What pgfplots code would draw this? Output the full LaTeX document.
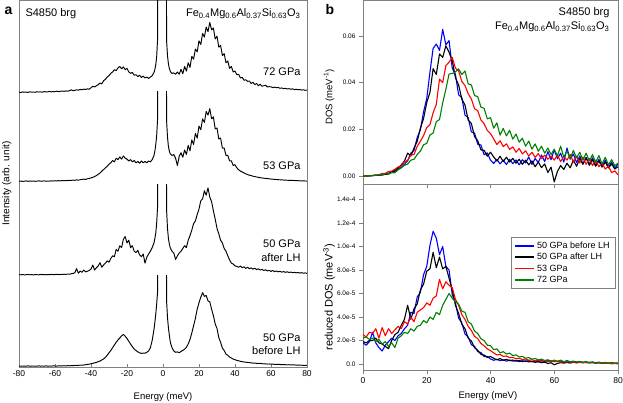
\documentclass[border=0pt]{standalone}
\usepackage{fontspec}
\setmainfont{Liberation Sans}
\usepackage{pgfplots}
\pgfplotsset{compat=1.18}
\usepackage{pgfplotstable}

\definecolor{framegray}{gray}{0.5}
\definecolor{dosgreen}{rgb}{0,0.5,0}
\definecolor{dosblue}{rgb}{0,0,1}

% NRIXS spectra, intensity in % of one panel band
% b = 50 GPa before LH, a = 50 GPa after LH, c = 53 GPa, d = 72 GPa
\pgfplotstableread{
E b a c d
-80 1.0 1.5 1.8 2.0
-79 0.8 1.3 2.2 1.6
-78 1.1 1.6 1.7 2.3
-77 0.9 1.2 2.0 1.9
-76 1.0 1.4 2.3 2.1
-75 1.2 1.7 1.8 1.7
-74 0.9 1.3 2.1 2.4
-73 1.0 1.5 1.9 2.0
-72 1.1 1.2 2.2 2.2
-71 0.8 1.6 1.8 1.8
-70 1.0 1.4 2.0 2.5
-69 1.2 1.3 2.4 2.1
-68 0.9 1.7 1.9 2.3
-67 1.1 1.4 2.1 2.0
-66 1.0 1.5 2.3 2.6
-65 1.2 1.3 1.9 2.2
-64 0.9 1.6 2.2 2.4
-63 1.1 1.4 2.0 2.8
-62 1.0 1.8 2.4 2.3
-61 1.2 1.5 2.1 2.7
-60 1.1 1.6 2.5 2.5
-59 1.0 1.9 2.2 3.1
-58 1.3 1.5 2.6 2.6
-57 1.1 1.8 2.3 2.9
-56 1.2 1.6 2.7 3.3
-55 1.4 2.0 2.4 2.8
-54 1.2 1.7 2.8 3.4
-53 1.5 2.2 2.5 3.0
-52 1.3 1.9 3.0 3.6
-51 1.6 2.4 2.7 4.5
-50 1.5 2.8 3.2 3.5
-49 1.7 3.5 2.9 4.0
-48 1.6 8.0 3.4 4.6
-47 1.8 3.0 3.1 4.2
-46 2.0 5.5 3.6 5.0
-45 1.9 4.0 3.9 4.6
-44 2.2 6.5 4.2 5.3
-43 2.5 4.5 3.8 4.9
-42 2.8 5.2 4.6 5.6
-41 3.1 6.0 5.0 5.2
-40 3.6 7.5 5.5 6.8
-39 4.0 12.0 6.2 8.5
-38 4.5 6.5 7.0 7.6
-37 5.0 9.0 8.1 9.0
-36 5.8 11.0 9.5 10.2
-35 6.5 14.5 10.8 12.0
-34 7.6 9.5 13.0 11.0
-33 8.8 12.0 14.6 14.5
-32 10.5 14.0 16.5 16.0
-31 12.8 16.5 18.2 18.5
-30 15.5 15.0 20.5 20.0
-29 18.0 19.0 22.0 22.5
-28 21.0 22.0 24.5 24.0
-27 24.0 21.0 23.0 26.5
-26 27.0 29.0 27.0 25.5
-25 29.5 27.0 25.5 28.5
-24 31.5 33.0 28.5 30.0
-23 34.0 31.0 26.0 27.5
-22 35.5 40.0 29.5 29.5
-21 33.5 43.0 27.0 26.5
-20 31.0 36.0 26.0 28.0
-19 28.0 39.0 24.0 24.0
-18 25.0 31.0 25.5 22.5
-17 22.0 33.0 23.0 23.5
-16 19.5 27.0 24.5 20.5
-15 18.0 25.5 22.0 21.0
-14 16.5 28.0 23.5 19.0
-13 15.5 23.0 21.5 20.5
-12 14.8 21.0 24.0 18.0
-11 15.2 24.0 22.0 19.5
-10 15.0 14.0 23.5 17.5
-9 16.0 20.5 22.0 18.5
-8 17.5 24.0 24.0 17.0
-7 21.0 27.0 23.0 18.5
-6 29.0 31.0 25.5 20.0
-5 41.0 36.0 30.0 23.5
-4.5 49.0 41.0 35.0 27.0
-4 58.0 47.0 42.0 32.0
-3.5 69.0 58.0 52.0 41.0
-3 82.0 76.0 70.0 60.0
-2.5 400 400 400 400
1.5 400 400 400 400
2 72 72 68 58
2.5 54 52 50 42
3 43 41 40 33
3.5 35 35 35 28
4 28 31 32 25
4.5 24 29 31 23.5
5 21 27 30 22.5
6 17.5 25 31 23
7 16 18 27 21.5
8 16.5 22 19 24
9 15.5 25 29 21.5
10 17 27 33 27
11 18 30 28 22
12 19.5 33 36 30
13 21.5 31 31 25
14 25 39 41 34
15 30 44 35 29
16 37 50 47 41
17 45 57 42 38
18 53 60 54 49
19 63 67 49 46
20 70 73 62 58
21 76 82 58 54
22 81 84 70 66
23 77 93 66 62
24 78 88 78 73
25 72 96 74 68
26 71 86 81 78
27 63 81 70 70
28 56 71 72 72
29 47 62 59 60
30 42 52 60 63
31 32 46 48 51
32 27 39 49 53
33 20.5 36 38 42
34 18 30 38 44
35 14 27 30 34
36 12.8 22 30 36
37 10.8 17.5 24 28
38 9.8 14 24 30
39 8.6 13 19 24
40 8.0 11 20 25
41 7.2 10.5 16.5 21
42 6.8 9.5 14.5 21.5
43 6.2 10.8 13.0 17.5
44 5.8 9.0 12.0 18.0
45 5.5 10.0 11.0 15.0
46 5.2 8.2 10.0 15.5
47 5.0 9.5 9.2 13.8
48 4.8 8.0 8.5 14.0
49 4.5 8.8 8.0 11.5
50 4.2 7.5 7.4 12.8
51 4.3 8.5 7.0 10.2
52 4.0 7.0 6.5 11.5
53 3.8 7.8 6.2 9.0
54 3.9 6.5 5.8 10.6
55 3.6 7.2 5.5 8.4
56 3.5 6.0 5.2 9.0
57 3.4 6.8 5.0 9.6
58 3.2 5.5 4.8 7.6
59 3.3 6.2 4.6 8.0
60 3.0 5.0 4.3 7.8
61 3.1 6.0 4.1 7.0
62 2.9 4.8 4.0 7.5
63 2.8 5.5 3.8 6.8
64 2.9 4.5 3.6 7.2
65 2.7 5.2 3.5 6.2
66 2.6 4.2 3.4 6.6
67 2.7 4.8 3.2 5.8
68 2.5 4.0 3.1 6.2
69 2.4 4.6 3.0 5.5
70 2.5 3.8 2.9 5.8
71 2.3 4.3 2.8 5.2
72 2.2 3.6 2.8 5.6
73 2.3 4.1 2.7 4.8
74 2.1 3.4 2.6 5.1
75 2.0 3.9 2.5 4.6
76 2.1 3.2 2.4 4.9
77 1.9 3.6 2.4 4.3
78 1.8 3.0 2.3 4.6
79 1.9 3.4 2.2 4.0
80 1.7 2.8 2.1 4.2
}\spectra

% DOS in 1e-3 meV^-1, reduced DOS in 1e-6 meV^-3
\pgfplotstableread{
E B K R G rb rk rr rg
0 0 0 0 0 18 19 25 22
1 0.02 0.02 0.03 0.02 16 18 23 23
2 0.08 0.08 0.10 0.09 19 20 27 21
3 0.25 0.18 0.23 0.20 27 20 26 22
4 0.29 0.35 0.48 0.31 18 22 30 19
5 0.35 0.45 0.55 0.52 14 18 22 21
6 0.40 0.60 1.12 0.61 11 17 31 17
7 0.78 0.74 1.18 0.93 16 15 24 19
8 1.22 0.83 1.92 0.96 19 13 30 15
9 1.78 1.62 2.11 1.46 22 20 26 18
10 2.0 2.5 2.9 1.4 20 25 29 14
11 2.9 3.3 3.9 2.7 24 27 32 22
12 3.7 4.8 4.3 3.5 26 33 30 24
13 5.1 6.4 6.1 4.6 30 38 36 27
14 6.5 9.8 6.7 5.1 33 50 34 26
15 9.8 8.6 9.0 6.8 44 38 40 30
16 10.9 12.0 9.2 7.2 43 47 36 28
17 16.5 14.8 12.7 9.2 57 51 44 32
18 19.8 20.5 14.9 10.7 61 63 46 33
19 27.5 24.6 17.3 13.4 76 68 48 37
20 33.2 31.5 20.8 14.0 83 79 52 35
21 44.5 35.8 22.0 17.6 101 81 50 40
22 54.7 46.0 27.1 18.4 113 95 56 38
23 56.5 43.5 30.7 23.3 107 82 58 44
24 53.8 52.3 41.5 24.2 93 91 72 42
25 62.8 50.8 40.0 31.3 100 81 64 50
26 56.2 55.8 47.3 37.2 83 83 70 55
27 58.0 53.0 48.8 43.7 80 73 67 60
28 46.2 49.5 50.8 43.9 59 63 65 56
29 43.5 42.1 46.2 44.6 52 50 55 53
30 34.8 39.0 45.0 45.9 39 43 50 51
31 33.6 33.0 40.5 43.5 35 34 42 45
32 26.1 30.4 38.8 45.0 25.5 30 38 44
33 25.0 24.0 35.2 39.5 23 22 32 36
34 18.9 22.5 33.0 39.0 16.4 19.5 28.5 34
35 18.4 16.9 28.8 34.5 15 13.8 23.5 28
36 13.6 15.1 28.0 34.0 10.5 11.7 21.6 26
37 13.3 11.2 24.0 29.5 9.7 8.2 17.5 21.5
38 9.1 11.0 22.4 29.0 6.3 7.6 15.5 20
39 9.9 8.5 19.5 24.5 6.5 5.6 12.8 16
40 6.8 10.2 18.2 25.0 4.3 6.4 11.4 15.6
41 5.4 8.2 15.9 20.5 3.2 4.9 9.5 12.2
42 7.1 6.4 13.5 22.8 4.0 3.6 7.7 12.9
43 5.2 8.5 15.1 17.5 2.8 4.6 8.2 9.5
44 6.8 6.2 12.6 20.4 3.5 3.2 6.5 10.5
45 4.9 8.1 13.8 17.2 2.4 4.0 6.8 8.5
46 7.2 6.0 11.4 19.6 3.4 2.8 5.4 9.3
47 5.3 7.6 12.5 15.8 2.4 3.4 5.7 7.2
48 6.9 5.5 10.2 18.0 3.0 2.4 4.4 7.8
49 4.8 7.2 11.8 14.5 2.0 3.0 4.9 6.0
50 7.0 5.0 9.5 16.2 2.8 2.0 3.8 6.5
51 5.6 6.8 10.8 12.8 2.2 2.6 4.2 4.9
52 8.2 4.8 8.6 15.0 3.0 1.8 3.2 5.5
53 5.0 6.5 10.2 11.5 1.8 2.3 3.6 4.1
54 7.5 4.0 8.0 13.8 2.6 1.4 2.7 4.7
55 5.8 6.0 9.6 10.6 1.9 2.0 3.2 3.5
56 9.0 3.6 7.4 12.8 2.9 1.1 2.4 4.1
57 6.2 5.2 9.0 9.8 1.9 1.6 2.8 3.0
58 10.5 1.5 7.2 12.0 3.1 0.4 2.1 3.6
59 7.0 3.8 8.6 9.2 2.0 1.1 2.5 2.6
60 11.2 -2.5 6.8 11.5 3.1 -0.7 1.9 3.2
61 7.4 2.0 9.0 8.6 2.0 0.5 2.4 2.3
62 9.8 4.5 6.2 12.8 2.5 1.2 1.6 3.3
63 6.0 2.8 8.4 8.0 1.5 0.7 2.1 2.0
64 12.0 5.5 6.8 10.8 2.9 1.3 1.7 2.6
65 7.2 3.5 9.2 7.5 1.7 0.8 2.2 1.8
66 9.5 6.8 6.0 11.0 2.2 1.6 1.4 2.5
67 5.8 4.2 8.5 7.8 1.3 0.9 1.9 1.7
68 8.6 7.5 5.6 10.2 1.9 1.6 1.2 2.2
69 5.2 5.0 8.2 6.8 1.1 1.1 1.7 1.4
70 8.0 7.8 5.0 9.8 1.6 1.6 1.0 2.0
71 5.0 4.6 7.5 6.5 1.0 0.9 1.5 1.3
72 7.8 7.0 4.5 9.2 1.5 1.4 0.9 1.8
73 4.5 4.2 6.8 5.8 0.8 0.8 1.3 1.1
74 7.2 6.5 4.0 8.8 1.3 1.2 0.7 1.6
75 4.2 3.8 5.6 5.2 0.7 0.7 1.0 0.9
76 6.8 6.0 3.0 8.0 1.2 1.0 0.5 1.4
77 3.8 3.5 4.2 4.8 0.6 0.6 0.7 0.8
78 6.0 5.2 1.5 7.0 1.0 0.9 0.2 1.2
79 3.5 3.0 2.2 4.5 0.6 0.5 0.4 0.7
80 5.0 4.0 0.5 5.5 0.8 0.6 0.1 0.9
}\dos

\pgfplotsset{
  band/.style={scale only axis, anchor=south west, width=288pt, height=91.75pt,
    xmin=-80, xmax=80, ymin=0, ymax=100, hide axis},
  trace/.style={black, line width=0.95pt, line join=round},
  dosline/.style={line width=1.1pt, line join=round},
  panelb/.style={scale only axis, anchor=south west, width=255pt,
    xmin=0, xmax=80, tick pos=left, tick align=outside,
    axis line style={framegray}, tick style={framegray, line width=0.5pt},
    major tick length=4pt,
    yticklabel style={font=\fontsize{6.5}{7}\selectfont},
    xticklabel style={font=\fontsize{8.5}{10}\selectfont}},
}

\begin{document}
\begin{tikzpicture}
\useasboundingbox (0pt,0pt) rectangle (623pt,403pt);

% ---- panel a: frame and energy axis
\begin{axis}[scale only axis, anchor=south west, at={(19pt,36pt)},
    width=288pt, height=367pt, xmin=-80, xmax=80, ymin=0, ymax=1,
    ytick=\empty, xtick={-80,-60,...,80},
    xticklabels={-80,-60,-40,-20,0,20,40,60,80},
    tick pos=left, tick align=inside, major tick length=3pt,
    axis line style={framegray}, tick style={framegray, line width=0.5pt},
    xticklabel style={font=\fontsize{8.5}{10}\selectfont},
    xlabel={Energy (meV)},
    xlabel style={font=\fontsize{9.5}{11}\selectfont, at={(axis description cs:0.5,-0.082)}, anchor=center},
    ylabel={Intensity (arb. unit)},
    ylabel style={font=\fontsize{10}{12}\selectfont, at={(axis description cs:-0.042,0.5)}, anchor=center},
]
\end{axis}

\begin{axis}[band, at={(19pt,36pt)}]
\addplot[trace] table[x=E, y=b] {\spectra};
\end{axis}
\begin{axis}[band, at={(19pt,127pt)}]
\addplot[trace] table[x=E, y=a] {\spectra};
\end{axis}
\begin{axis}[band, at={(19pt,220pt)}]
\addplot[trace] table[x=E, y=c] {\spectra};
\end{axis}
\begin{axis}[band, at={(19pt,309pt)}, height=94pt, ymax=102.5]
\addplot[trace] table[x=E, y=d] {\spectra};
\end{axis}

\node[anchor=base west, font=\fontsize{14}{16}\selectfont\bfseries] at (1pt,388pt) {a};
\node[anchor=base west, font=\fontsize{11}{13}\selectfont] at (22pt,386pt) {S4850 brg};
\node[anchor=base east, font=\fontsize{11}{13}\selectfont] at (304pt,386pt)
  {Fe\textsubscript{0.4}Mg\textsubscript{0.6}Al\textsubscript{0.37}Si\textsubscript{0.63}O\textsubscript{3}};
\node[anchor=base east, font=\fontsize{11}{13}\selectfont] at (304pt,327pt) {72 GPa};
\node[anchor=base east, font=\fontsize{11}{13}\selectfont] at (304pt,233pt) {53 GPa};
\node[anchor=base east, font=\fontsize{11}{13}\selectfont] at (304pt,155pt) {50 GPa};
\node[anchor=base east, font=\fontsize{11}{13}\selectfont] at (304pt,141pt) {after LH};
\node[anchor=base east, font=\fontsize{11}{13}\selectfont] at (304pt,61pt) {50 GPa};
\node[anchor=base east, font=\fontsize{11}{13}\selectfont] at (304pt,48pt) {before LH};

% ---- panel b, top: DOS
\begin{axis}[panelb, at={(363pt,219pt)}, height=184pt,
    ymin=-3.4, ymax=75.4, xtick={20,40,60}, xticklabels={},
    ytick={0,20,40,60}, yticklabels={0.00,0.02,0.04,0.06},
    ylabel={DOS (meV\textsuperscript{-1})},
    ylabel style={font=\fontsize{9.5}{11}\selectfont, at={(axis description cs:-0.133,0.473)}, anchor=center},
]
\addplot[dosline, dosblue] table[x=E, y=B] {\dos};
\addplot[dosline, black] table[x=E, y=K] {\dos};
\addplot[dosline, red] table[x=E, y=R] {\dos};
\addplot[dosline, dosgreen] table[x=E, y=G] {\dos};
\end{axis}

% ---- panel b, bottom: reduced DOS
\begin{axis}[panelb, at={(363pt,33pt)}, height=186pt,
    ymin=-5.1, ymax=153.2, xtick={0,20,...,80}, xticklabels={0,20,40,60,80},
    ytick={0,20,...,140},
    yticklabels={0.0,2.0e-5,4.0e-5,6.0e-5,8.0e-5,1.0e-4,1.2e-4,1.4e-4},
    xlabel={Energy (meV)},
    xlabel style={font=\fontsize{9.5}{11}\selectfont, at={(axis description cs:0.49,-0.14)}, anchor=center},
    ylabel={reduced DOS (meV\textsuperscript{-3})},
    ylabel style={font=\fontsize{11}{13}\selectfont, at={(axis description cs:-0.133,0.392)}, anchor=center},
    legend cell align=left,
    legend image code/.code={\draw[#1, line width=1.7pt] (0pt,0pt) -- (19pt,0pt);},
    legend style={at={(0.988,0.715)}, anchor=north east, draw=framegray,
      font=\fontsize{9}{10.5}\selectfont, row sep=-0.5pt, inner xsep=3pt, inner ysep=2.5pt},
]
\addplot[dosline, dosblue] table[x=E, y=rb] {\dos};
\addlegendentry{50 GPa before LH}
\addplot[dosline, black] table[x=E, y=rk] {\dos};
\addlegendentry{50 GPa after LH}
\addplot[dosline, red] table[x=E, y=rr] {\dos};
\addlegendentry{53 GPa}
\addplot[dosline, dosgreen] table[x=E, y=rg] {\dos};
\addlegendentry{72 GPa}
\end{axis}

\node[anchor=base west, font=\fontsize{14}{16}\selectfont\bfseries] at (322pt,388pt) {b};
\node[anchor=base east, font=\fontsize{11}{13}\selectfont] at (613pt,387pt) {S4850 brg};
\node[anchor=base east, font=\fontsize{11}{13}\selectfont] at (613pt,373pt)
  {Fe\textsubscript{0.4}Mg\textsubscript{0.6}Al\textsubscript{0.37}Si\textsubscript{0.63}O\textsubscript{3}};
\end{tikzpicture}
\end{document}
